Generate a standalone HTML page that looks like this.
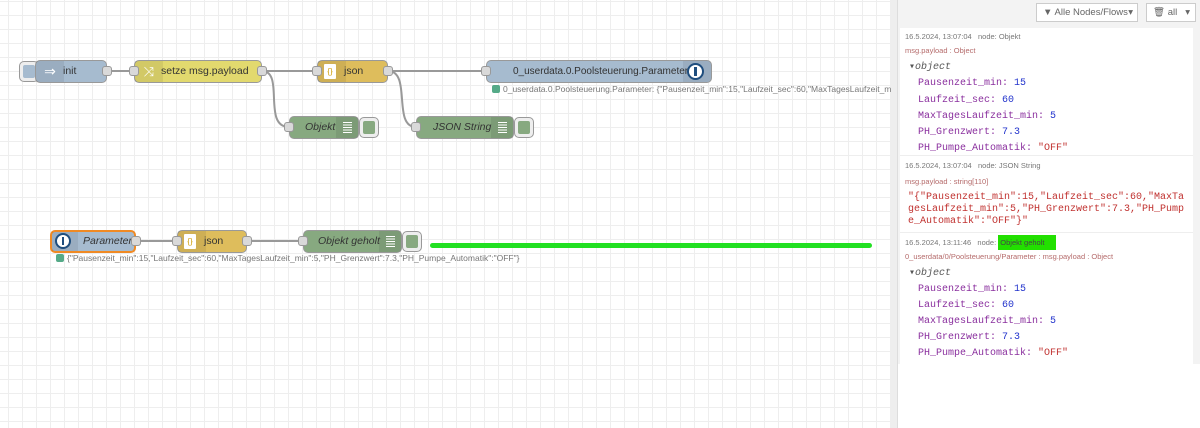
<!DOCTYPE html>
<html><head><meta charset="utf-8"><style>
*{box-sizing:border-box;margin:0;padding:0}
body{width:1200px;height:428px;overflow:hidden;position:relative;font-family:"Liberation Sans",sans-serif;background:#fff}
#canvas{position:absolute;left:0;top:0;width:891px;height:428px;background-color:#fff;
background-image:linear-gradient(to right,#eee 1px,transparent 1px),linear-gradient(to bottom,#eee 1px,transparent 1px);
background-size:14px 14px;background-position:8px 1px}
.n{position:absolute;height:23px;border:1px solid #999;border-radius:5px;font-size:10.5px;color:#333;line-height:21px;white-space:nowrap}
.ic{position:absolute;top:0;bottom:0;width:28px;background:rgba(0,0,0,0.07)}
.port{position:absolute;width:10px;height:10px;background:#d9d9d9;border:1px solid #999;border-radius:3px;top:5px}
.btn{position:absolute;width:19px;height:19px;border:1px solid #999;border-radius:5px;background:#eee}
.btn i{position:absolute;left:3px;top:3px;width:11px;height:11px;border-radius:2px}
.st{position:absolute;font-size:8.5px;color:#777;white-space:nowrap}
.st b{display:inline-block;width:8px;height:8px;background:#5a8;border-radius:2px;margin-right:3px;vertical-align:-1px}
.lines{position:absolute;left:0;top:0}
.bars{position:absolute;right:0;top:0;bottom:0;width:22px;background:rgba(0,0,0,0.08)}
.bars:after{content:"";position:absolute;left:7px;top:5px;width:9px;height:11px;background:repeating-linear-gradient(#fff 0 1px,transparent 1px 2.5px)}
#side{position:absolute;left:891px;top:0;width:309px;height:428px;background:#f3f3f3;border-left:1px solid #ddd}
#div{position:absolute;left:891px;top:0;width:7px;height:428px;background:#eee;border-right:1px solid #ddd}
.hb{position:absolute;top:3px;height:19px;border:1px solid #ccc;background:#fff;font-size:9.5px;color:#666;line-height:17px;padding-left:6px;white-space:nowrap}
#list{position:absolute;left:900px;top:28px;width:293px;height:336px;background:#fff}
.msg{position:absolute;left:0;width:293px;border-bottom:1px solid #eee;font-size:7.5px}
.meta{position:absolute;left:5px;color:#777;white-space:nowrap}
.mp{position:absolute;left:5px;color:#b56b6b;white-space:nowrap}
.mono{font-family:"Liberation Mono",monospace;font-size:10px}
.k{color:#8a2f9e}.v{color:#2233cc}.s{color:#c0312f}
</style></head><body>
<div id="canvas">
<svg class="lines" width="891" height="428">
<g fill="none" stroke="#999" stroke-width="2">
<path d="M106 71 H135"/>
<path d="M262 71 H318"/>
<path d="M262 71 C285 71 262 127 289 127"/>
<path d="M388 71 H486"/>
<path d="M388 71 C412 71 392 127 416 127"/>
<path d="M135 241 H178"/>
<path d="M247 241 H304"/>
</g>
<rect x="430" y="243" width="442" height="5" rx="2.5" fill="#22e022"/>
</svg>

<div class="btn" style="left:19px;top:61px;width:20px;height:21px"><i style="background:#a6bbcf;width:12px;height:13px"></i></div>
<div class="n" style="left:35px;top:60px;width:72px;background:#a6bbcf"><div class="ic" style="left:0;color:#fff;text-align:center;font-size:14px">⇒</div><span style="position:absolute;left:27px">init</span><div class="port" style="right:-6px"></div></div>
<div class="n" style="left:134px;top:60px;width:128px;background:#e2d96e"><div class="ic" style="left:0;color:#fff;text-align:center;font-size:13px">⤨</div><span style="position:absolute;left:26px">setze msg.payload</span><div class="port" style="left:-6px"></div><div class="port" style="right:-6px"></div></div>
<div class="n" style="left:317px;top:60px;width:71px;background:#debd5c"><div class="ic" style="left:0"><div style="position:absolute;left:6px;top:3px;width:12px;height:15px;background:#fff;border-radius:1px;font-size:8px;color:#c90;line-height:15px;text-align:center">{}</div></div><span style="position:absolute;left:26px">json</span><div class="port" style="left:-6px"></div><div class="port" style="right:-6px"></div></div>
<div class="n" style="left:486px;top:60px;width:226px;background:#a6bbcf;font-size:10px"><span style="position:absolute;left:26px">0_userdata.0.Poolsteuerung.Parameter</span><div class="ic" style="right:0;border-radius:0 4px 4px 0"><div style="position:absolute;left:4px;top:2px;width:17px;height:17px;border-radius:50%;border:2px solid #1f4e7e;background:#fff"><div style="position:absolute;left:5px;top:2px;width:3px;height:9px;background:#1f4e7e"></div></div></div><div class="port" style="left:-6px"></div></div>
<div class="st" style="left:492px;top:84px"><b></b>0_userdata.0.Poolsteuerung.Parameter: {"Pausenzeit_min":15,"Laufzeit_sec":60,"MaxTagesLaufzeit_mi</div>
<div class="n" style="left:289px;top:116px;width:70px;background:#87a980;font-style:italic"><span style="position:absolute;left:15px">Objekt</span><div class="bars"></div><div class="port" style="left:-6px"></div></div>
<div class="btn" style="left:359px;top:117px;width:20px;height:21px"><i style="background:#87a980;width:12px;height:13px"></i></div>
<div class="n" style="left:416px;top:116px;width:98px;background:#87a980;font-style:italic"><span style="position:absolute;left:16px">JSON String</span><div class="bars"></div><div class="port" style="left:-6px"></div></div>
<div class="btn" style="left:514px;top:117px;width:20px;height:21px"><i style="background:#87a980;width:12px;height:13px"></i></div>

<div class="n" style="left:50px;top:230px;width:86px;background:#a6bbcf;border:2px solid #f08a24;font-style:italic;line-height:19px"><div class="ic" style="left:0;width:26px"><div style="position:absolute;left:3px;top:1px;width:16px;height:16px;border-radius:50%;border:2px solid #1f4e7e;background:#fff"><div style="position:absolute;left:5px;top:2px;width:2px;height:8px;background:#1f4e7e"></div></div></div><span style="position:absolute;left:31px">Parameter</span><div class="port" style="right:-7px;top:4px"></div></div>
<div class="n" style="left:177px;top:230px;width:70px;background:#debd5c"><div class="ic" style="left:0"><div style="position:absolute;left:6px;top:3px;width:12px;height:15px;background:#fff;border-radius:1px;font-size:8px;color:#c90;line-height:15px;text-align:center">{}</div></div><span style="position:absolute;left:26px">json</span><div class="port" style="left:-6px"></div><div class="port" style="right:-6px"></div></div>
<div class="n" style="left:303px;top:230px;width:99px;background:#87a980;font-style:italic"><span style="position:absolute;left:14px">Objekt geholt</span><div class="bars"></div><div class="port" style="left:-6px"></div></div>
<div class="btn" style="left:402px;top:231px;width:20px;height:21px"><i style="background:#87a980;width:12px;height:13px"></i></div>
<div class="st" style="left:56px;top:253px"><b></b>{"Pausenzeit_min":15,"Laufzeit_sec":60,"MaxTagesLaufzeit_min":5,"PH_Grenzwert":7.3,"PH_Pumpe_Automatik":"OFF"}</div>
</div>

<div id="side">
<div class="hb" style="left:144px;width:102px">▼ Alle Nodes/Flows <span style="position:absolute;right:4px;top:0">▾</span></div>
<div class="hb" style="left:254px;width:50px">🗑 all <span style="position:absolute;right:5px;top:0">▾</span></div>
</div>
<div id="div"></div>
<div id="list">
<div class="msg" style="top:0;height:128px">
<div class="meta" style="top:4px">16.5.2024, 13:07:04 &nbsp; node: Objekt</div>
<div class="mp" style="top:18px">msg.payload : Object</div>
<div class="mono" style="position:absolute;left:9px;top:32px;line-height:16.3px">
<div style="font-style:italic;color:#555">▾object</div>
<div style="padding-left:9px"><span class="k">Pausenzeit_min:</span> <span class="v">15</span></div>
<div style="padding-left:9px"><span class="k">Laufzeit_sec:</span> <span class="v">60</span></div>
<div style="padding-left:9px"><span class="k">MaxTagesLaufzeit_min:</span> <span class="v">5</span></div>
<div style="padding-left:9px"><span class="k">PH_Grenzwert:</span> <span class="v">7.3</span></div>
<div style="padding-left:9px"><span class="k">PH_Pumpe_Automatik:</span> <span class="s">"OFF"</span></div>
</div></div>
<div class="msg" style="top:128px;height:77px">
<div class="meta" style="top:5px">16.5.2024, 13:07:04 &nbsp; node: JSON String</div>
<div class="mp" style="top:21px">msg.payload : string[110]</div>
<div class="mono s" style="position:absolute;left:8px;top:36px;width:280px;line-height:12px;word-break:break-all">"{"Pausenzeit_min":15,"Laufzeit_sec":60,"MaxTagesLaufzeit_min":5,"PH_Grenzwert":7.3,"PH_Pumpe_Automatik":"OFF"}"</div>
</div>
<div class="msg" style="top:205px;height:131px;border-bottom:none">
<div class="meta" style="top:5px">16.5.2024, 13:11:46 &nbsp; node: <span style="background:#22e000;color:#444;padding:3px 12px 3px 2px">Objekt geholt</span></div>
<div class="mp" style="top:19px">0_userdata/0/Poolsteuerung/Parameter : msg.payload : Object</div>
<div class="mono" style="position:absolute;left:9px;top:33px;line-height:16px">
<div style="font-style:italic;color:#555">▾object</div>
<div style="padding-left:9px"><span class="k">Pausenzeit_min:</span> <span class="v">15</span></div>
<div style="padding-left:9px"><span class="k">Laufzeit_sec:</span> <span class="v">60</span></div>
<div style="padding-left:9px"><span class="k">MaxTagesLaufzeit_min:</span> <span class="v">5</span></div>
<div style="padding-left:9px"><span class="k">PH_Grenzwert:</span> <span class="v">7.3</span></div>
<div style="padding-left:9px"><span class="k">PH_Pumpe_Automatik:</span> <span class="s">"OFF"</span></div>
</div></div>
</div>
<div style="position:absolute;left:898px;top:364px;width:302px;height:64px;background:#fff"></div>
</body></html>
